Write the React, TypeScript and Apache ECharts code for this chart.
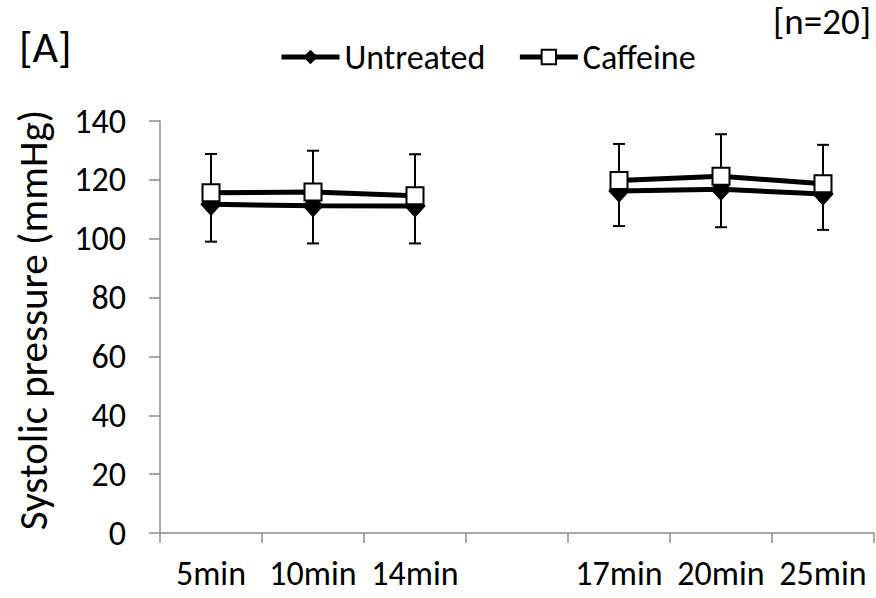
import React, { useEffect, useRef } from "react";
import * as echarts from "echarts";

const categories = ["5min", "10min", "14min", "", "17min", "20min", "25min"];
const untreated = [111.7, 111.2, 111.1, null, 116.2, 116.8, 115.2];
const untreatedSD = [12.7, 12.8, 12.7, null, 11.9, 12.9, 12.2];
const caffeine = [115.6, 115.9, 114.6, null, 119.8, 121.2, 118.7];
const caffeineSD = [13.2, 14.0, 14.1, null, 12.4, 14.3, 13.2];
const yTicks = { min: 0, max: 140, interval: 20 };
const yTitle = "Systolic pressure (mmHg)";

const FONT = "Carlito, Lato, 'Open Sans', sans-serif";
const AXIS_COLOR = "#8c8c8c";

function errorData(means: (number | null)[], sds: (number | null)[], dir: number) {
  const out: any[] = [];
  means.forEach((m, i) => {
    const s = sds[i];
    if (m == null || s == null) return;
    out.push([i, m, m + dir * s]);
  });
  return out;
}

function renderErr(params: any, api: any) {
  const x = api.value(0);
  const a = api.coord([x, api.value(1)]);
  const b = api.coord([x, api.value(2)]);
  const cap = 6;
  return {
    type: "group",
    children: [
      { type: "line", shape: { x1: a[0], y1: a[1], x2: b[0], y2: b[1] }, style: { stroke: "#000", lineWidth: 2 } },
      { type: "line", shape: { x1: b[0] - cap, y1: b[1], x2: b[0] + cap, y2: b[1] }, style: { stroke: "#000", lineWidth: 2 } },
    ],
  };
}

export default function App() {
  const ref = useRef<HTMLDivElement>(null);
  useEffect(() => {
    if (!ref.current) return;
    const chart = echarts.init(ref.current, undefined, { renderer: "svg" });
    chart.setOption({
      animation: false,
      backgroundColor: "#fff",
      textStyle: { fontFamily: FONT },
      grid: { left: 160, right: 2, top: 121, bottom: 65, outerBoundsMode: "none" },
      legend: {
        left: 274,
        top: 35,
        itemWidth: 58,
        itemHeight: 18,
        itemGap: 32,
        textStyle: { fontSize: 34, color: "#000", fontFamily: FONT },
        lineStyle: { width: 5 },
        data: ["Untreated", "Caffeine"],
      },
      graphic: [
        { type: "text", left: 19, top: 25, style: { text: "[A]", fontSize: 44, fill: "#000", fontFamily: FONT } },
        { type: "text", right: 5, top: 3, style: { text: "[n=20]", fontSize: 37, fill: "#000", fontFamily: FONT } },
        {
          type: "text",
          x: 33,
          y: 320,
          rotation: Math.PI / 2,
          style: {
            text: yTitle,
            fontSize: 41,
            fill: "#000",
            fontFamily: FONT,
            align: "center",
            verticalAlign: "middle",
          },
        },
      ],
      xAxis: {
        type: "category",
        data: categories,
        boundaryGap: true,
        axisLine: { lineStyle: { color: AXIS_COLOR, width: 1.5 } },
        axisTick: { show: true, length: 10, lineStyle: { color: AXIS_COLOR, width: 1.5 } },
        axisLabel: { fontSize: 34, color: "#000", margin: 23, interval: 0, fontFamily: FONT },
        splitLine: { show: false },
      },
      yAxis: {
        type: "value",
        min: yTicks.min,
        max: yTicks.max,
        interval: yTicks.interval,
        axisLine: { show: true, lineStyle: { color: AXIS_COLOR, width: 1.5 } },
        axisTick: { show: true, length: 11, lineStyle: { color: AXIS_COLOR, width: 1.5 } },
        axisLabel: { fontSize: 34, color: "#000", margin: 34, fontFamily: FONT },
        splitLine: { show: false },
      },
      series: [
        {
          type: "custom",
          name: "errU",
          renderItem: renderErr,
          data: errorData(untreated, untreatedSD, -1),
          z: 1,
          silent: true,
        },
        {
          type: "custom",
          name: "errC",
          renderItem: renderErr,
          data: errorData(caffeine, caffeineSD, 1),
          z: 1,
          silent: true,
        },
        {
          name: "Untreated",
          type: "line",
          data: untreated,
          connectNulls: false,
          symbol: "diamond",
          symbolSize: [20, 22],
          showAllSymbol: true,
          lineStyle: { color: "#000", width: 5 },
          itemStyle: { color: "#000", borderColor: "#000" },
          z: 2,
        },
        {
          name: "Caffeine",
          type: "line",
          data: caffeine,
          connectNulls: false,
          symbol: "rect",
          symbolSize: 17,
          showAllSymbol: true,
          lineStyle: { color: "#000", width: 5 },
          itemStyle: { color: "#fff", borderColor: "#000", borderWidth: 2 },
          z: 3,
        },
      ],
    });
    return () => chart.dispose();
  }, []);
  return <div ref={ref} style={{ width: 876, height: 598, position: "absolute", left: 0, top: 0 }} />;
}
